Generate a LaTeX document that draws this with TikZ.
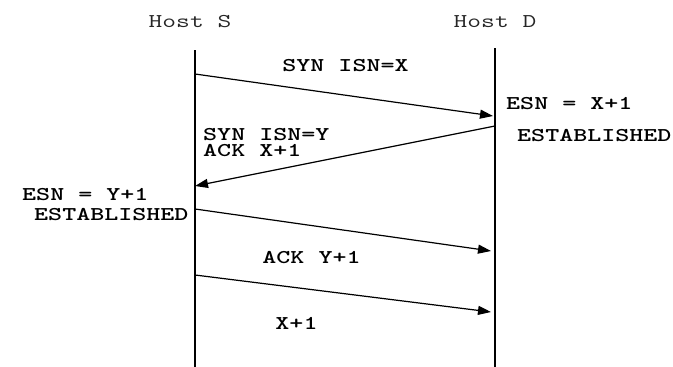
\documentclass[tikz,border=0pt]{standalone}
\usepackage{graphicx}
\usetikzlibrary{arrows.meta}
\newcommand{\wide}[1]{\scalebox{1.37}[1]{#1}}
\begin{document}
\begin{tikzpicture}[x=1pt,y=-1pt,
  lbl/.style={inner sep=0pt,font=\ttfamily\bfseries\fontsize{19.5}{15.5}\selectfont},
  host/.style={inner sep=0pt,font=\ttfamily\fontsize{19.5}{15.5}\selectfont,text=black!85},
  life/.style={line width=1.2pt},
  msg/.style={line width=1.2pt,-{Triangle[length=13pt,width=9pt]}}]
\useasboundingbox (0,0) rectangle (673,367);
% hosts
\node[host,anchor=base] (hs) at (190,27) {\wide{Host S}};
\node[host,anchor=base] (hd) at (495,27) {\wide{Host D}};
% lifelines
\coordinate (st) at (195,50);
\coordinate (sb) at (195,367);
\coordinate (dt) at (495,48);
\coordinate (db) at (495,367);
\draw[life] (st) -- (sb);
\draw[life] (dt) -- (db);
% message endpoints
\coordinate (a1) at (195,74);  \coordinate (b1) at (493,116);
\coordinate (a2) at (495,126); \coordinate (b2) at (195,186);
\coordinate (a3) at (195,209); \coordinate (b3) at (491,251);
\coordinate (a4) at (195,275); \coordinate (b4) at (491,312);
\draw[msg] (a1) -- (b1);
\draw[msg] (a2) -- (b2);
\draw[msg] (a3) -- (b3);
\draw[msg] (a4) -- (b4);
% labels
\node[lbl,anchor=base] (m1) at (345.5,71) {\wide{SYN ISN=X}};
\node[lbl,anchor=base west] (e1) at (506,109.5) {\wide{ESN = X+1}};
\node[lbl,anchor=base west] (e2) at (517,141.5) {\wide{ESTABLISHED}};
\node[lbl,anchor=base west] (m2a) at (203,140.5) {\wide{SYN ISN=Y}};
\node[lbl,anchor=base west] (m2b) at (203,156) {\wide{ACK X+1}};
\node[lbl,anchor=base west] (e3) at (22,200) {\wide{ESN = Y+1}};
\node[lbl,anchor=base west] (e4) at (34,220) {\wide{ESTABLISHED}};
\node[lbl,anchor=base] (m3) at (311.5,263) {\wide{ACK Y+1}};
\node[lbl,anchor=base] (m4) at (296.5,329) {\wide{X+1}};
\end{tikzpicture}
\end{document}
